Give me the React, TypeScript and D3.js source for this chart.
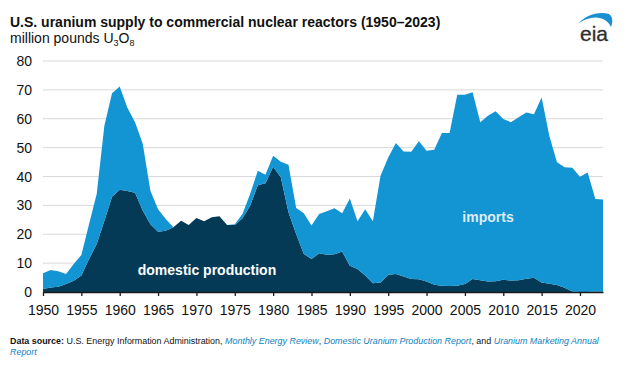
import React, { useEffect, useRef } from 'react';
import * as d3 from 'd3';

const years = d3.range(1950, 2024);

// million pounds U3O8
const domestic = [
  1.0, 1.6, 1.8, 2.8, 3.9, 5.7, 11.4, 16.6, 24.7, 33.0,
  35.4, 35.0, 34.4, 28.2, 23.5, 20.9, 21.2, 22.4, 24.7, 23.2,
  25.6, 24.5, 25.9, 26.2, 23.2, 23.2, 25.5, 29.9, 37.0, 37.7,
  43.4, 39.7, 27.6, 20.1, 13.2, 11.4, 13.4, 12.9, 13.1, 14.0,
  9.1, 8.0, 5.7, 3.0, 3.3, 6.0, 6.2, 5.4, 4.5, 4.4,
  3.6, 2.5, 2.2, 2.1, 2.2, 2.8, 4.5, 4.1, 3.6, 3.7,
  4.2, 4.0, 4.1, 4.6, 4.9, 3.3, 2.9, 2.4, 1.5, 0.2,
  0.0, 0.0, 0.2, 0.1,
];

const imports = [
  5.5, 6.0, 5.4, 3.4, 5.8, 7.1, 12.1, 17.3, 32.9, 35.8,
  35.8, 28.8, 24.4, 23.1, 11.6, 7.8, 4.1, 0, 0, 0,
  0, 0, 0, 0, 0, 0.3, 1.5, 4.0, 5.0, 2.9,
  3.8, 5.4, 16.5, 9.0, 14.1, 11.6, 13.6, 15.1, 15.9, 13.3,
  23.3, 16.5, 23.0, 21.5, 37.0, 40.6, 45.4, 43.3, 44.1, 47.8,
  45.3, 46.8, 52.9, 53.0, 66.1, 65.5, 64.7, 54.7, 57.4, 58.9,
  55.7, 54.8, 56.4, 57.6, 56.7, 64.1, 51.2, 42.5, 41.7, 42.8,
  39.9, 41.4, 32.0, 31.9,
];

const yTicks = [0, 10, 20, 30, 40, 50, 60, 70, 80];
const xTicks = d3.range(1950, 2021, 5);

const sourceParts = [
  { text: 'Data source: ', bold: true, link: false },
  { text: 'U.S. Energy Information Administration, ', bold: false, link: false },
  { text: 'Monthly Energy Review', bold: false, link: true },
  { text: ', ', bold: false, link: false },
  { text: 'Domestic Uranium Production Report', bold: false, link: true },
  { text: ', and ', bold: false, link: false },
  { text: 'Uranium Marketing Annual', bold: false, link: true },
];

const DARK = '#053a57';
const LIGHT = '#1394d3';
const LINK = '#0f7fc0';
const FONT = "'Liberation Sans', Arial, sans-serif";

const App: React.FC = () => {
  const svgRef = useRef<SVGSVGElement>(null);

  useEffect(() => {
    if (!svgRef.current) return;
    const svg = d3.select(svgRef.current);
    svg.selectAll('*').remove();

    const x = d3.scaleLinear().domain([1950, 2023]).range([43, 603]);
    const y = d3.scaleLinear().domain([0, 80]).range([292, 61]);

    // Title block
    svg.append('text')
      .attr('x', 10).attr('y', 27)
      .attr('font-family', FONT).attr('font-size', 14).attr('font-weight', 'bold')
      .attr('fill', '#111')
      .text('U.S. uranium supply to commercial nuclear reactors (1950–2023)');

    const sub = svg.append('text')
      .attr('x', 10).attr('y', 43)
      .attr('font-family', FONT).attr('font-size', 14).attr('fill', '#111');
    sub.append('tspan').text('million pounds U');
    sub.append('tspan').attr('font-size', 9).attr('dy', 3).text('3');
    sub.append('tspan').attr('dy', -3).text('O');
    sub.append('tspan').attr('font-size', 9).attr('dy', 3).text('8');

    // eia logo
    svg.append('path')
      .attr('d', 'M578,24 C586,14 600,11 609,14 C613,17 613,22 611,27 C608,20 600,16 591,18 C586,19 581,21 578,24 Z')
      .attr('fill', '#1a8fd1');
    svg.append('text')
      .attr('x', 594).attr('y', 41)
      .attr('text-anchor', 'middle')
      .attr('font-family', FONT).attr('font-size', 21)
      .attr('fill', '#2e2e2e')
      .attr('stroke', '#2e2e2e').attr('stroke-width', 0.3)
      .text('eia');

    // Grid
    svg.append('g')
      .selectAll('line')
      .data(yTicks.filter(t => t > 0))
      .enter().append('line')
      .attr('x1', 43).attr('x2', 603)
      .attr('y1', d => y(d)).attr('y2', d => y(d))
      .attr('stroke', '#d9d9d9').attr('stroke-width', 1);

    // Stacked areas
    const rows = years.map((yr, i) => ({ year: yr, domestic: domestic[i], imports: imports[i] }));
    const stack = d3.stack<any>().keys(['domestic', 'imports'])(rows);
    const area = d3.area<any>()
      .x(d => x(d.data.year))
      .y0(d => y(d[0]))
      .y1(d => y(d[1]));

    svg.append('g')
      .selectAll('path')
      .data(stack)
      .enter().append('path')
      .attr('d', area as any)
      .attr('fill', (d, i) => (i === 0 ? DARK : LIGHT));

    // Y labels
    svg.append('g')
      .selectAll('text')
      .data(yTicks)
      .enter().append('text')
      .attr('x', 32).attr('y', d => y(d) + 5)
      .attr('text-anchor', 'end')
      .attr('font-family', FONT).attr('font-size', 14).attr('fill', '#111')
      .text(d => d);

    // X axis
    const xAxis = svg.append('g')
      .attr('transform', 'translate(0,292)')
      .call(d3.axisBottom(x).tickValues(xTicks).tickFormat(d3.format('d')).tickSize(4).tickPadding(9).tickSizeOuter(0));
    xAxis.select('.domain').attr('stroke', '#1a1a1a').attr('stroke-width', 1.5);
    xAxis.selectAll('.tick line').attr('stroke', '#1a1a1a').attr('stroke-width', 1.3);
    xAxis.selectAll('.tick text')
      .attr('font-family', FONT).attr('font-size', 14).attr('fill', '#111');

    // Series labels
    svg.append('text')
      .attr('x', 207).attr('y', 275)
      .attr('text-anchor', 'middle')
      .attr('font-family', FONT).attr('font-size', 14).attr('font-weight', 'bold')
      .attr('fill', '#fff')
      .text('domestic production');
    svg.append('text')
      .attr('x', 488).attr('y', 222)
      .attr('text-anchor', 'middle')
      .attr('font-family', FONT).attr('font-size', 14).attr('font-weight', 'bold')
      .attr('fill', '#dcecf6')
      .text('imports');

    // Source note: measure pieces, then fit them into the line width
    const g = svg.append('g');
    const pieces = g.selectAll('text')
      .data(sourceParts)
      .enter().append('text')
      .attr('y', 344)
      .attr('font-family', FONT)
      .attr('font-size', 10)
      .attr('font-weight', d => (d.bold ? 'bold' : 'normal'))
      .attr('font-style', d => (d.link ? 'italic' : 'normal'))
      .attr('fill', d => (d.link ? LINK : '#111'))
      .style('white-space', 'pre')
      .attr('xml:space', 'preserve')
      .text(d => d.text);
    const widths: number[] = [];
    pieces.each(function () { widths.push((this as SVGTextElement).getComputedTextLength()); });
    const total = d3.sum(widths) || 1;
    const k = 589 / total;
    let cx = 10;
    pieces.each(function (d, i) {
      d3.select(this).attr('x', cx).attr('font-size', 10 * k);
      cx += widths[i] * k;
    });
    svg.append('text')
      .attr('x', 10).attr('y', 355)
      .attr('font-family', FONT).attr('font-size', 10 * k)
      .attr('font-style', 'italic').attr('fill', LINK)
      .text('Report');
  }, []);

  return (
    <svg
      ref={svgRef}
      width={626}
      height={367}
      style={{ position: 'absolute', left: 0, top: 0, background: '#fff' }}
    />
  );
};

export default App;
